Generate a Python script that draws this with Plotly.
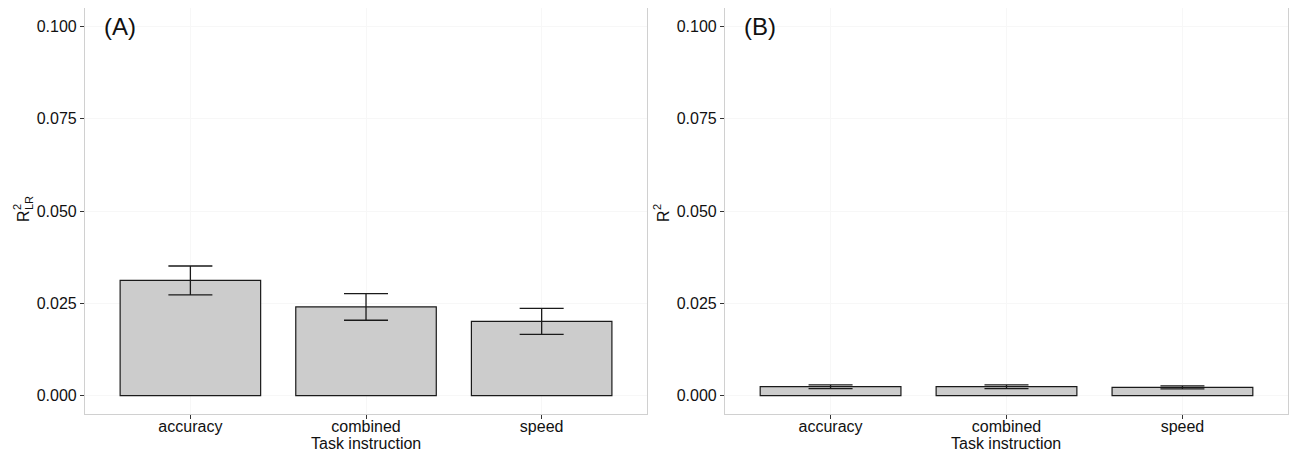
import plotly.graph_objects as go

categories = ["accuracy", "combined", "speed"]
r2_lr = [0.0312, 0.0240, 0.0201]
r2_lr_err = [0.0039, 0.0036, 0.0035]
r2 = [0.0024, 0.0024, 0.0022]
r2_err = [0.0005, 0.0005, 0.0004]
yticks = [0.0, 0.025, 0.05, 0.075, 0.1]
ytick_text = ["0.000", "0.025", "0.050", "0.075", "0.100"]

FONT = "Liberation Sans, Arial, sans-serif"
TXT = "#111111"

fig = go.Figure()
for vals, errs, xa, ya in [(r2_lr, r2_lr_err, "x", "y"), (r2, r2_err, "x2", "y2")]:
    fig.add_trace(go.Bar(
        x=categories, y=vals, xaxis=xa, yaxis=ya, width=0.8,
        marker=dict(color="#cccccc", line=dict(color="#1a1a1a", width=1.2)),
        error_y=dict(type="data", array=errs, visible=True, color="#1a1a1a",
                     thickness=1.3, width=22),
        showlegend=False, hoverinfo="skip",
    ))

common_x = dict(showline=True, mirror=True, linecolor="#d0d0d0", linewidth=1.2,
                ticks="outside", ticklen=4, tickcolor="#333333", tickwidth=1,
                showgrid=True, gridcolor="#f7f7f7", range=[-0.6, 2.6],
                automargin=False, ticklabelstandoff=-6,
                tickfont=dict(family=FONT, size=16, color=TXT), zeroline=False)
common_y = dict(showline=True, mirror=True, linecolor="#d0d0d0", linewidth=1.2,
                ticks="outside", ticklen=4, tickcolor="#333333", tickwidth=1,
                showgrid=True, gridcolor="#f7f7f7", range=[-0.005, 0.105],
                tickvals=yticks, ticktext=ytick_text, automargin=False,
                tickfont=dict(family=FONT, size=16, color=TXT), zeroline=False)

# page has an 8px body margin, so the figure is offset by (8, 8)
fig.update_layout(
    width=1290, height=443,
    margin=dict(l=77, r=10, t=0, b=37, autoexpand=False),
    plot_bgcolor="white", paper_bgcolor="white",
    bargap=0.2,
    xaxis=dict(domain=[0, 0.4672], **common_x),
    xaxis2=dict(domain=[0.532, 1], anchor="y2", **common_x),
    yaxis=dict(anchor="x", **common_y),
    yaxis2=dict(anchor="x2", **common_y),
    font=dict(family=FONT, color=TXT),
)

annotations = [
    dict(text="(A)", x=0.03, y=0.1, xref="x domain", yref="y", xanchor="left", yanchor="middle",
         showarrow=False, font=dict(size=24, family=FONT, color=TXT)),
    dict(text="(B)", x=0.03, y=0.1, xref="x2 domain", yref="y2", xanchor="left", yanchor="middle",
         showarrow=False, font=dict(size=24, family=FONT, color=TXT)),
]
for xr in ["x", "x2"]:
    annotations.append(dict(text="Task instruction", x=0.5, y=0, xref=f"{xr} domain", yref="paper",
                            xanchor="center", yanchor="middle", yshift=-29, showarrow=False,
                            font=dict(size=16, family=FONT, color=TXT)))

# y-axis titles: R with stacked superscript "2" and (panel A) subscript "LR"
for xr, yr, sub in [("x", "y", "LR"), ("x2", "y2", None)]:
    annotations.append(dict(text="R", x=0, y=0.05, xref=f"{xr} domain", yref=yr,
                            xanchor="center", yanchor="bottom", xshift=-62, yshift=-13,
                            textangle=-90, showarrow=False,
                            font=dict(size=16, family=FONT, color=TXT)))
    annotations.append(dict(text="2", x=0, y=0.05, xref=f"{xr} domain", yref=yr,
                            xanchor="center", yanchor="bottom", xshift=-68, yshift=-1,
                            textangle=-90, showarrow=False,
                            font=dict(size=11, family=FONT, color=TXT)))
    if sub:
        annotations.append(dict(text=sub, x=0, y=0.05, xref=f"{xr} domain", yref=yr,
                                xanchor="center", yanchor="bottom", xshift=-56, yshift=-1,
                                textangle=-90, showarrow=False,
                                font=dict(size=11, family=FONT, color=TXT)))
fig.update_layout(annotations=annotations)

fig.write_html("out.html")
